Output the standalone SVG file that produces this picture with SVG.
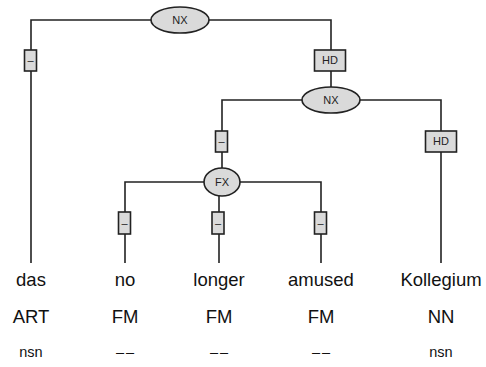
<svg xmlns="http://www.w3.org/2000/svg" width="486" height="367" viewBox="0 0 486 367">
<style>
.edge{fill:none;stroke:#222;stroke-width:1.6}
.node{fill:#dadada;stroke:#222;stroke-width:1.6}
.lbl{font-family:"Liberation Sans",Arial,sans-serif;font-size:11px;fill:#222;text-anchor:middle}
.word{font-family:"Liberation Sans",Arial,sans-serif;font-size:18.5px;fill:#111;text-anchor:middle}
.morph{font-family:"Liberation Sans",Arial,sans-serif;font-size:14.5px;fill:#111;text-anchor:middle}
.dash{letter-spacing:2px}
</style>
<rect width="486" height="367" fill="#fff"/>
<g id="connectors">
<path class="edge" d="M31,263 V20 H331 V100"/>
<path class="edge" d="M222,182 V100 H441 V263"/>
<path class="edge" d="M125,263 V182 H321 V263"/>
<path class="edge" d="M219,182 V263"/>
</g>
<g id="nx1"><ellipse class="node" cx="180" cy="20" rx="29" ry="13"/><text class="lbl" x="180" y="24">NX</text></g>
<g id="e1"><rect class="node" x="24.5" y="50" width="12" height="21"/><text class="lbl" x="30.5" y="64">–</text></g>
<g id="hd1"><rect class="node" x="314.5" y="50" width="31" height="21"/><text class="lbl" x="330" y="64">HD</text></g>
<g id="nx2"><ellipse class="node" cx="331" cy="100" rx="29" ry="13"/><text class="lbl" x="331" y="104">NX</text></g>
<g id="e2"><rect class="node" x="215.5" y="131" width="12" height="21"/><text class="lbl" x="221.5" y="145">–</text></g>
<g id="hd2"><rect class="node" x="425.5" y="131" width="31" height="21"/><text class="lbl" x="441" y="145">HD</text></g>
<g id="fx"><ellipse class="node" cx="222" cy="182" rx="18" ry="14"/><text class="lbl" x="222" y="186">FX</text></g>
<g id="e3"><rect class="node" x="118.5" y="212" width="12" height="22"/><text class="lbl" x="124.5" y="227">–</text></g>
<g id="e4"><rect class="node" x="212" y="212" width="12" height="22"/><text class="lbl" x="218" y="227">–</text></g>
<g id="e5"><rect class="node" x="314.5" y="212" width="12" height="22"/><text class="lbl" x="320.5" y="227">–</text></g>
<g id="w-das"><text class="word" x="31" y="286">das</text><text class="word" x="31" y="323">ART</text><text class="morph" x="31" y="357">nsn</text></g>
<g id="w-no"><text class="word" x="125" y="286">no</text><text class="word" x="125" y="323">FM</text><text class="morph dash" x="126" y="357">––</text></g>
<g id="w-longer"><text class="word" x="219" y="286">longer</text><text class="word" x="219" y="323">FM</text><text class="morph dash" x="220" y="357">––</text></g>
<g id="w-amused"><text class="word" x="321" y="286">amused</text><text class="word" x="321" y="323">FM</text><text class="morph dash" x="322" y="357">––</text></g>
<g id="w-kollegium"><text class="word" x="441" y="286">Kollegium</text><text class="word" x="441" y="323">NN</text><text class="morph" x="441" y="357">nsn</text></g>
</svg>
